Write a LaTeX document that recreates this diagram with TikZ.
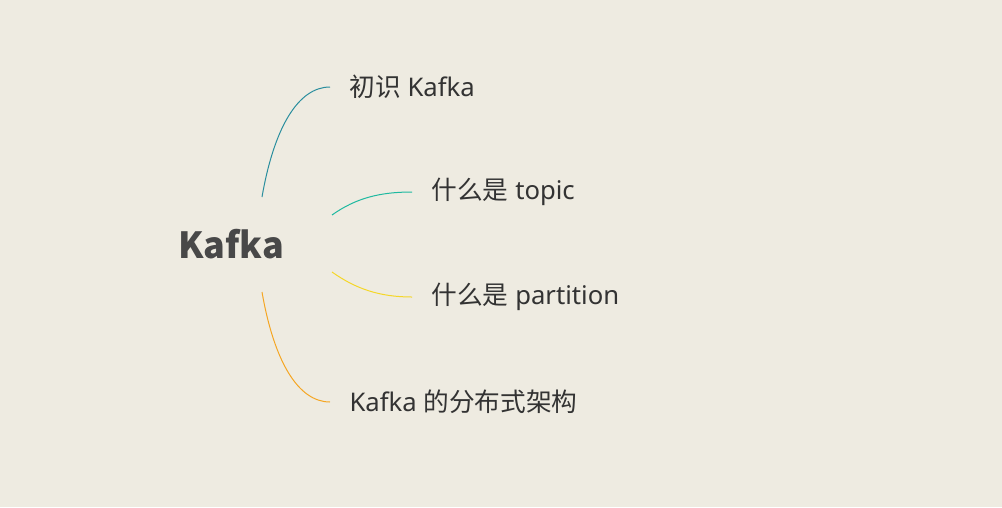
\documentclass[tikz,border=0pt]{standalone}
\usepackage{fontspec}
\setmainfont{Noto Sans}
\newfontfamily\cjk{Noto Sans CJK SC}
\definecolor{bg}{RGB}{238,235,225}
\definecolor{txt}{RGB}{51,51,51}
\definecolor{roottxt}{RGB}{72,72,72}
\definecolor{c1}{RGB}{42,142,158}
\definecolor{c2}{RGB}{30,185,160}
\definecolor{c3}{RGB}{245,215,40}
\definecolor{c4}{RGB}{245,166,35}
\begin{document}
\begin{tikzpicture}[x=0.75pt,y=-0.75pt,
  rootnode/.style={font=\cjk\fontsize{27pt}{30pt}\selectfont\bfseries, text=roottxt, inner sep=0pt},
  childnode/.style={anchor=west, font=\fontsize{19.25pt}{22pt}\selectfont, text=txt, inner xsep=14.5pt, inner ysep=0pt},
  link/.style={line width=0.75pt}]
\fill[bg] (0,0) rectangle (1002,507);
\useasboundingbox (0,0) rectangle (1002,507);
\node[rootnode] (root) at (231,244) {Kafka};
\node[childnode] (n1) at (330,87) {{\cjk 初识} Kafka};
\node[childnode] (n2) at (412,192) {{\cjk 什么是} topic};
\node[childnode] (n3) at (412,297) {{\cjk 什么是} partition};
\node[childnode] (n4) at (330,402) {Kafka {\cjk 的分布式架构}};
\coordinate (s1) at (262,197);
\coordinate (s2) at (332,215);
\coordinate (s3) at (332,272);
\coordinate (s4) at (262,292);
\draw[link,c1] (s1) .. controls (274,128) and (298,87) .. (n1.west);
\draw[link,c2] (s2) .. controls (356,198) and (380,192) .. (n2.west);
\draw[link,c3] (s3) .. controls (356,289) and (380,297) .. (n3.west);
\draw[link,c4] (s4) .. controls (274,361) and (298,402) .. (n4.west);
\end{tikzpicture}
\end{document}
